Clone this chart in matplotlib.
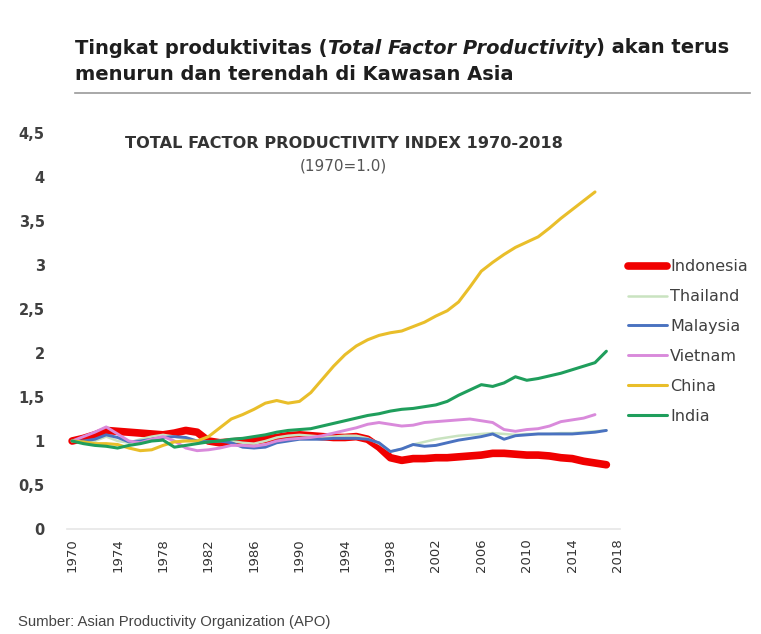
import matplotlib
matplotlib.use("Agg")
import matplotlib.pyplot as plt
from matplotlib.lines import Line2D

plt.rcParams['font.family'] = ['DejaVu Sans']

years = list(range(1970, 2018))
years_short = list(range(1970, 2017))

indonesia = [1.00, 1.03, 1.07, 1.12, 1.11, 1.10, 1.09, 1.08, 1.07, 1.09, 1.12, 1.10, 1.00, 0.98,
             0.99, 1.00, 1.00, 1.02, 1.04, 1.06, 1.07, 1.06, 1.05, 1.04, 1.04, 1.05, 1.02, 0.93,
             0.81, 0.78, 0.80, 0.80, 0.81, 0.81, 0.82, 0.83, 0.84, 0.86, 0.86, 0.85, 0.84, 0.84,
             0.83, 0.81, 0.80, 0.77, 0.75, 0.73]
thailand = [1.00, 0.98, 1.00, 1.05, 1.00, 0.98, 1.02, 1.05, 1.07, 1.05, 1.02, 1.00, 0.99, 1.00,
            1.00, 0.98, 0.97, 1.00, 1.04, 1.06, 1.07, 1.06, 1.05, 1.05, 1.06, 1.06, 1.03, 0.97,
            0.88, 0.91, 0.96, 0.99, 1.02, 1.04, 1.06, 1.07, 1.08, 1.09, 1.08, 1.07, 1.08, 1.08,
            1.08, 1.09, 1.09, 1.10, 1.11, 1.12]
malaysia = [1.00, 1.00, 1.02, 1.07, 1.04, 0.99, 1.00, 1.02, 1.04, 1.05, 1.04, 1.00, 0.99, 1.00,
            0.98, 0.93, 0.92, 0.93, 0.98, 1.00, 1.02, 1.02, 1.02, 1.03, 1.03, 1.03, 1.02, 0.98,
            0.88, 0.91, 0.96, 0.94, 0.95, 0.98, 1.01, 1.03, 1.05, 1.08, 1.02, 1.06, 1.07, 1.08,
            1.08, 1.08, 1.08, 1.09, 1.10, 1.12]
vietnam = [1.00, 1.05, 1.10, 1.16, 1.08, 1.00, 0.98, 1.02, 1.05, 1.00, 0.92, 0.89, 0.90, 0.92,
           0.95, 0.95, 0.94, 0.96, 1.00, 1.02, 1.03, 1.04, 1.06, 1.09, 1.12, 1.15, 1.19, 1.21,
           1.19, 1.17, 1.18, 1.21, 1.22, 1.23, 1.24, 1.25, 1.23, 1.21, 1.13, 1.11, 1.13, 1.14,
           1.17, 1.22, 1.24, 1.26, 1.30]
china = [1.00, 0.99, 0.97, 0.97, 0.96, 0.92, 0.89, 0.90, 0.95, 0.99, 1.00, 1.00, 1.05, 1.15,
         1.25, 1.30, 1.36, 1.43, 1.46, 1.43, 1.45, 1.55, 1.70, 1.85, 1.98, 2.08, 2.15, 2.20,
         2.23, 2.25, 2.30, 2.35, 2.42, 2.48, 2.58, 2.75, 2.93, 3.03, 3.12, 3.20, 3.26, 3.32,
         3.42, 3.53, 3.63, 3.73, 3.83]
india = [1.00, 0.97, 0.95, 0.94, 0.92, 0.95, 0.97, 1.00, 1.01, 0.93, 0.95, 0.97, 0.99, 1.00,
         1.02, 1.03, 1.05, 1.07, 1.10, 1.12, 1.13, 1.14, 1.17, 1.20, 1.23, 1.26, 1.29, 1.31,
         1.34, 1.36, 1.37, 1.39, 1.41, 1.45, 1.52, 1.58, 1.64, 1.62, 1.66, 1.73, 1.69, 1.71,
         1.74, 1.77, 1.81, 1.85, 1.89, 2.02]

series_names = ["Indonesia", "Thailand", "Malaysia", "Vietnam", "China", "India"]
xtick_years = list(range(1970, 2019, 4))
ytick_vals = [0, 0.5, 1, 1.5, 2, 2.5, 3, 3.5, 4, 4.5]
ytick_labels = ["0", "0,5", "1", "1,5", "2", "2,5", "3", "3,5", "4", "4,5"]

colors = ["#F00000", "#C9E3C0", "#4A72C0", "#D98ADB", "#E9BE2A", "#1F9E5C"]
widths = [5.5, 1.8, 2.1, 2.1, 2.2, 2.2]

W, H = 761, 634
fig = plt.figure(figsize=(W / 100, H / 100), dpi=100)
ax = fig.add_axes([67 / W, 1 - 529 / H, (620 - 67) / W, (529 - 133) / H])

data = [(years, indonesia), (years, thailand), (years, malaysia),
        (years_short, vietnam), (years_short, china), (years, india)]
handles = []
for (xs, ys), name, c, w in zip(data, series_names, colors, widths):
    ln, = ax.plot(xs, ys, color=c, lw=w, label=name, solid_capstyle='round',
                  solid_joinstyle='round')
    handles.append(ln)

ax.set_xlim(1969.55, 2018.2)
ax.set_ylim(0, 4.5)
for s in ["top", "right", "left"]:
    ax.spines[s].set_visible(False)
ax.spines["bottom"].set_color("#E6E6E6")
ax.spines["bottom"].set_linewidth(1.2)
ax.set_xticks(xtick_years)
ax.set_xticklabels([str(y) for y in xtick_years], rotation=90, fontsize=9.5,
                   color="#333333")
ax.set_yticks(ytick_vals)
ax.set_yticklabels(ytick_labels, fontsize=10.5, color="#404040", fontweight="bold")
ax.tick_params(axis='both', length=0)
ax.tick_params(axis='y', pad=16)
ax.tick_params(axis='x', pad=7)

fig.text(344 / W, 1 - 143 / H, "TOTAL FACTOR PRODUCTIVITY INDEX 1970-2018",
         ha="center", va="center", fontsize=11.6, fontweight="bold", color="#333333")
fig.text(343 / W, 1 - 166 / H, "(1970=1.0)", ha="center", va="center",
         fontsize=11, color="#555555")

# heading with italic part
renderer = fig.canvas.get_renderer()
pieces = [("Tingkat produktivitas (", "normal"),
          ("Total Factor Productivity", "italic"),
          (") akan terus", "normal")]
target_w = 728 - 75
fs = 13.0
tmp = []
x = 0
for txt, st in pieces:
    t = fig.text(0, 0.5, txt, fontsize=fs, fontweight="bold", style=st)
    bb = t.get_window_extent(renderer=renderer)
    x += bb.width
    tmp.append(t)
for t in tmp:
    t.remove()
fs = fs * target_w / x

xpix = 75
for txt, st in pieces:
    t = fig.text(xpix / W, 1 - 48 / H, txt, fontsize=fs, fontweight="bold", style=st,
                 ha="left", va="center", color="#1E1E1E")
    bb = t.get_window_extent(renderer=renderer)
    xpix += bb.width
fig.text(75 / W, 1 - 75 / H, "menurun dan terendah di Kawasan Asia", fontsize=fs,
         fontweight="bold", ha="left", va="center", color="#1E1E1E")

fig.legend(handles=handles, labels=series_names, loc="upper left",
           bbox_to_anchor=(614 / W, 1 - 245 / H), frameon=False,
           fontsize=11.5, handlelength=2.4, labelspacing=0.93, handletextpad=0.2,
           labelcolor="#404040")

fig.text(18 / W, 1 - 622 / H, "Sumber: Asian Productivity Organization (APO)",
         ha="left", va="center", fontsize=10.7, color="#444444", family="Liberation Sans")

fig.add_artist(Line2D([75 / W, 750 / W], [1 - 93 / H, 1 - 93 / H],
                      color="#9A9A9A", lw=1.2))

fig.savefig("out.png", dpi=100)
